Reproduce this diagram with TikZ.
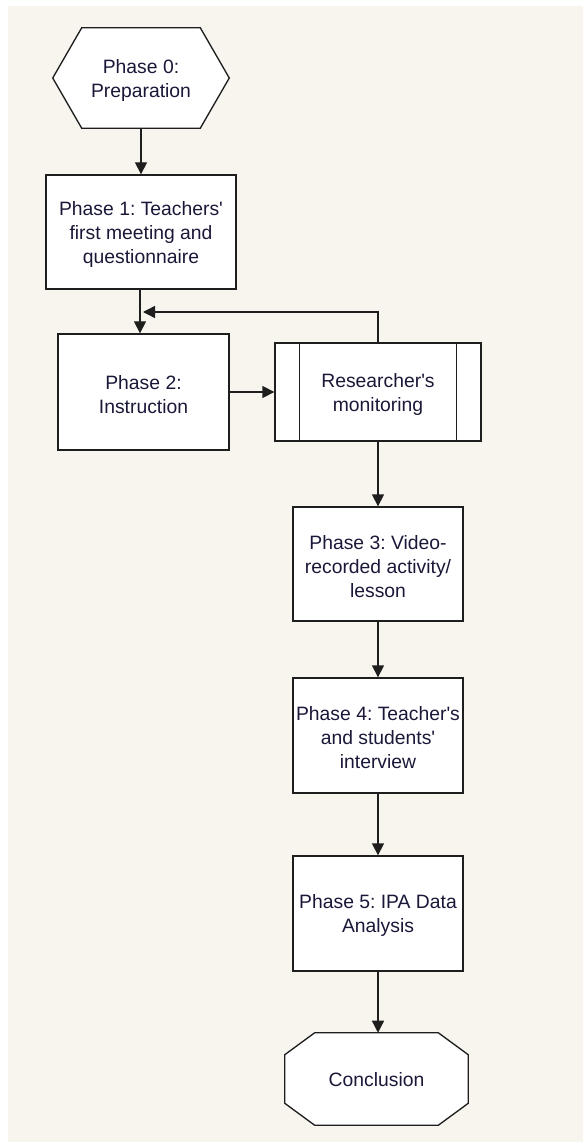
\documentclass[tikz,border=0pt]{standalone}
\usepackage{fontspec}
\setmainfont{Liberation Sans}
\frenchspacing
\usetikzlibrary{arrows.meta,backgrounds}
\definecolor{bg}{HTML}{F8F5EE}
\definecolor{txt}{HTML}{1A1838}
\definecolor{ln}{HTML}{1E1E1E}
\newcommand{\q}{\textquotesingle}
\newcommand{\tp}{\rule{0pt}{14pt}}
\begin{document}
\begin{tikzpicture}[x=0.75pt,y=-0.75pt,
  every node/.style={font=\fontsize{14.5}{18}\selectfont, text=txt, align=center, inner sep=0pt},
  box/.style={draw=ln, line width=1pt, fill=white},
  ghost/.style={draw=none},
  shp/.style={draw=ln, line width=1pt, fill=white},
  arr/.style={draw=ln, line width=1pt, -{Triangle[length=9pt,width=9pt]}}
]
\useasboundingbox (0,0) rectangle (583,1144);

% nodes
\node[ghost, minimum width=132pt, minimum height=75pt] (p0) at (141,78) {\tp Phase 0:\\Preparation};
\node[box, minimum width=142.5pt, minimum height=85.5pt] (p1) at (141,232) {\tp Phase 1: Teachers\q\\first meeting and\\questionnaire};
\node[box, minimum width=128.25pt, minimum height=87pt] (p2) at (143.5,392) {\tp Phase 2:\\Instruction};
\node[box, minimum width=154.5pt, minimum height=73.5pt] (mon) at (378,392) {\tp Researcher\q s\\monitoring};
\node[box, minimum width=127.5pt, minimum height=85.5pt] (p3) at (378,564) {\tp Phase 3: Video-\\recorded activity/\\lesson};
\node[box, minimum width=127.5pt, minimum height=86.25pt] (p4) at (378,735.5) {\tp Phase 4: Teacher\q s\\and students\q\\interview};
\node[box, minimum width=127.5pt, minimum height=86.25pt] (p5) at (378,913.5) {\tp Phase 5: IPA Data\\Analysis};
\node[ghost, minimum width=137.25pt, minimum height=69pt] (end) at (376.5,1079) {\rule{0pt}{12pt}Conclusion};

% background and outline shapes
\begin{scope}[on background layer]
  \fill[white] (0,0) rectangle (583,1144);
  \fill[bg] (8,6) rectangle (583,1142);
  \draw[shp] (p0.west) -- ([xshift=21.75pt]p0.north west) -- ([xshift=-21.75pt]p0.north east)
    -- (p0.east) -- ([xshift=-21.75pt]p0.south east) -- ([xshift=21.75pt]p0.south west) -- cycle;
  \draw[shp] ([xshift=22.5pt]end.north west) -- ([xshift=-22.5pt]end.north east)
    -- ([yshift=-16.5pt]end.north east) -- ([yshift=16.5pt]end.south east)
    -- ([xshift=-22.5pt]end.south east) -- ([xshift=22.5pt]end.south west)
    -- ([yshift=16.5pt]end.south west) -- ([yshift=-16.5pt]end.north west) -- cycle;
\end{scope}

% inner bars of the predefined process box
\draw[ln, line width=1pt] ([xshift=18.75pt]mon.north west) -- ([xshift=18.75pt]mon.south west);
\draw[ln, line width=1pt] ([xshift=-18.75pt]mon.north east) -- ([xshift=-18.75pt]mon.south east);

% connectors
\coordinate (fb) at (143,312);
\draw[arr] (p0.south) -- (p1.north);
\draw[arr] ([xshift=-0.75pt]p1.south) -- ([xshift=-0.75pt]p1.south |- p2.north);
\draw[arr] (p2.east) -- (mon.west);
\draw[arr] (mon.north) |- (fb);
\draw[arr] (mon.south) -- (p3.north);
\draw[arr] (p3.south) -- (p4.north);
\draw[arr] (p4.south) -- (p5.north);
\draw[arr] (p5.south) -- ([xshift=1.125pt]end.north);
\end{tikzpicture}
\end{document}
